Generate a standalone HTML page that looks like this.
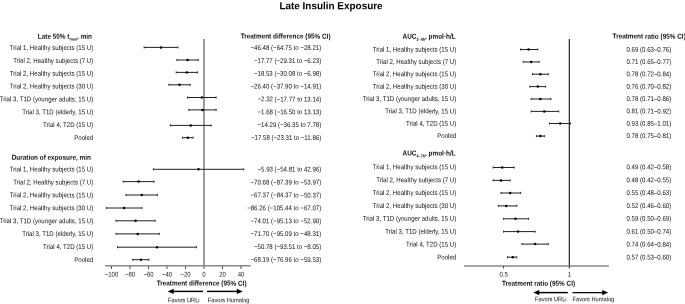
<!DOCTYPE html><html><head><meta charset="utf-8"><style>html,body{margin:0;padding:0;background:#fff;width:685px;height:304px;overflow:hidden}svg{display:block;will-change:transform}text{font-family:"Liberation Sans",sans-serif;fill:#111;text-rendering:geometricPrecision}</style></head><body>
<svg width="685" height="304" viewBox="0 0 685 304">
<g>
<text transform="matrix(1.000000,0.000873,-0.000908,1.04000,331.00,9.20)" font-size="9.95" font-weight="700" text-anchor="middle" style="fill:#000">Late Insulin Exposure</text>
<text transform="matrix(1.000000,0.000873,-0.000977,1.12000,92.00,38.70)" font-size="6.4" font-weight="700" text-anchor="end">Late 50% t<tspan font-size="3.8" dy="1.6">max</tspan><tspan dy="-1.6">, min</tspan></text>
<text transform="matrix(1.000000,0.000873,-0.000977,1.12000,90.90,159.80)" font-size="6.4" font-weight="700" text-anchor="end">Duration of exposure, min</text>
<text transform="matrix(1.000000,0.000873,-0.000977,1.12000,285.60,38.60)" font-size="6.4" font-weight="700" text-anchor="middle">Treatment difference (95% CI)</text>
<text transform="matrix(1.000000,0.000873,-0.000977,1.12000,93.20,50.10)" font-size="6.1" text-anchor="end">Trial 1, Healthy subjects (15 U)</text>
<text transform="matrix(1.000000,0.000873,-0.000977,1.12000,93.20,62.93)" font-size="6.1" text-anchor="end">Trial 2, Healthy subjects (7 U)</text>
<text transform="matrix(1.000000,0.000873,-0.000977,1.12000,93.20,75.76)" font-size="6.1" text-anchor="end">Trial 2, Healthy subjects (15 U)</text>
<text transform="matrix(1.000000,0.000873,-0.000977,1.12000,93.20,88.59)" font-size="6.1" text-anchor="end">Trial 2, Healthy subjects (30 U)</text>
<text transform="matrix(1.000000,0.000873,-0.000977,1.12000,93.20,101.42)" font-size="6.1" text-anchor="end">Trial 3, T1D (younger adults, 15 U)</text>
<text transform="matrix(1.000000,0.000873,-0.000977,1.12000,93.20,114.25)" font-size="6.1" text-anchor="end">Trial 3, T1D (elderly, 15 U)</text>
<text transform="matrix(1.000000,0.000873,-0.000977,1.12000,93.20,127.08)" font-size="6.1" text-anchor="end">Trial 4, T2D (15 U)</text>
<text transform="matrix(1.000000,0.000873,-0.000977,1.12000,93.20,139.91)" font-size="6.1" text-anchor="end">Pooled</text>
<text transform="matrix(1.000000,0.000873,-0.000977,1.12000,93.20,171.60)" font-size="6.1" text-anchor="end">Trial 1, Healthy subjects (15 U)</text>
<text transform="matrix(1.000000,0.000873,-0.000977,1.12000,93.20,184.50)" font-size="6.1" text-anchor="end">Trial 2, Healthy subjects (7 U)</text>
<text transform="matrix(1.000000,0.000873,-0.000977,1.12000,93.20,197.40)" font-size="6.1" text-anchor="end">Trial 2, Healthy subjects (15 U)</text>
<text transform="matrix(1.000000,0.000873,-0.000977,1.12000,93.20,210.30)" font-size="6.1" text-anchor="end">Trial 2, Healthy subjects (30 U)</text>
<text transform="matrix(1.000000,0.000873,-0.000977,1.12000,93.20,223.20)" font-size="6.1" text-anchor="end">Trial 3, T1D (younger adults, 15 U)</text>
<text transform="matrix(1.000000,0.000873,-0.000977,1.12000,93.20,236.10)" font-size="6.1" text-anchor="end">Trial 3, T1D (elderly, 15 U)</text>
<text transform="matrix(1.000000,0.000873,-0.000977,1.12000,93.20,249.00)" font-size="6.1" text-anchor="end">Trial 4, T2D (15 U)</text>
<text transform="matrix(1.000000,0.000873,-0.000977,1.12000,93.20,261.90)" font-size="6.1" text-anchor="end">Pooled</text>
<text transform="matrix(1.000000,0.000873,-0.000977,1.12000,321.20,50.10)" font-size="6.1" text-anchor="end">−46.48 (−64.75 to −28.21)</text>
<text transform="matrix(1.000000,0.000873,-0.000977,1.12000,321.20,62.93)" font-size="6.1" text-anchor="end">−17.77 (−29.31 to −6.23)</text>
<text transform="matrix(1.000000,0.000873,-0.000977,1.12000,321.20,75.76)" font-size="6.1" text-anchor="end">−18.53 (−30.08 to −6.98)</text>
<text transform="matrix(1.000000,0.000873,-0.000977,1.12000,321.20,88.59)" font-size="6.1" text-anchor="end">−26.40 (−37.90 to −14.91)</text>
<text transform="matrix(1.000000,0.000873,-0.000977,1.12000,321.20,101.42)" font-size="6.1" text-anchor="end">−2.32 (−17.77 to 13.14)</text>
<text transform="matrix(1.000000,0.000873,-0.000977,1.12000,321.20,114.25)" font-size="6.1" text-anchor="end">−1.68 (−16.50 to 13.13)</text>
<text transform="matrix(1.000000,0.000873,-0.000977,1.12000,321.20,127.08)" font-size="6.1" text-anchor="end">−14.29 (−36.35 to 7.78)</text>
<text transform="matrix(1.000000,0.000873,-0.000977,1.12000,321.20,139.91)" font-size="6.1" text-anchor="end">−17.58 (−23.31 to −11.86)</text>
<text transform="matrix(1.000000,0.000873,-0.000977,1.12000,321.20,171.60)" font-size="6.1" text-anchor="end">−5.93 (−54.81 to 42.96)</text>
<text transform="matrix(1.000000,0.000873,-0.000977,1.12000,321.20,184.50)" font-size="6.1" text-anchor="end">−70.68 (−87.39 to −53.97)</text>
<text transform="matrix(1.000000,0.000873,-0.000977,1.12000,321.20,197.40)" font-size="6.1" text-anchor="end">−67.37 (−84.37 to −50.37)</text>
<text transform="matrix(1.000000,0.000873,-0.000977,1.12000,321.20,210.30)" font-size="6.1" text-anchor="end">−86.26 (−105.44 to −67.07)</text>
<text transform="matrix(1.000000,0.000873,-0.000977,1.12000,321.20,223.20)" font-size="6.1" text-anchor="end">−74.01 (−95.13 to −52.90)</text>
<text transform="matrix(1.000000,0.000873,-0.000977,1.12000,321.20,236.10)" font-size="6.1" text-anchor="end">−71.70 (−95.09 to −48.31)</text>
<text transform="matrix(1.000000,0.000873,-0.000977,1.12000,321.20,249.00)" font-size="6.1" text-anchor="end">−50.78 (−93.51 to −8.05)</text>
<text transform="matrix(1.000000,0.000873,-0.000977,1.12000,321.20,261.90)" font-size="6.1" text-anchor="end">−68.19 (−76.96 to −59.53)</text>
<text transform="matrix(1.000000,0.000873,-0.000977,1.12000,111.50,276.60)" font-size="6" text-anchor="middle">−100</text>
<text transform="matrix(1.000000,0.000873,-0.000977,1.12000,130.00,276.60)" font-size="6" text-anchor="middle">−80</text>
<text transform="matrix(1.000000,0.000873,-0.000977,1.12000,148.50,276.60)" font-size="6" text-anchor="middle">−60</text>
<text transform="matrix(1.000000,0.000873,-0.000977,1.12000,167.00,276.60)" font-size="6" text-anchor="middle">−40</text>
<text transform="matrix(1.000000,0.000873,-0.000977,1.12000,185.50,276.60)" font-size="6" text-anchor="middle">−20</text>
<text transform="matrix(1.000000,0.000873,-0.000977,1.12000,204.00,276.60)" font-size="6" text-anchor="middle">0</text>
<text transform="matrix(1.000000,0.000873,-0.000977,1.12000,222.50,276.60)" font-size="6" text-anchor="middle">20</text>
<text transform="matrix(1.000000,0.000873,-0.000977,1.12000,241.00,276.60)" font-size="6" text-anchor="middle">40</text>
<text transform="matrix(1.000000,0.000873,-0.000977,1.12000,201.60,285.60)" font-size="6.4" font-weight="700" text-anchor="middle">Treatment difference (95% CI)</text>
<text transform="matrix(1.000000,0.000873,-0.000977,1.12000,168.00,302.20)" font-size="5.7">Favors URLi</text>
<text transform="matrix(1.000000,0.000873,-0.000977,1.12000,207.80,302.20)" font-size="5.7">Favors Humalog</text>
<text transform="matrix(1.000000,0.000873,-0.000977,1.12000,455.60,38.70)" font-size="6.4" font-weight="700" text-anchor="end">AUC<tspan font-size="3.8" dy="1.8">2–4h</tspan><tspan dy="-1.8">, pmol·h/L</tspan></text>
<text transform="matrix(1.000000,0.000873,-0.000977,1.12000,455.60,155.60)" font-size="6.4" font-weight="700" text-anchor="end">AUC<tspan font-size="3.8" dy="1.8">4–7h</tspan><tspan dy="-1.8">, pmol·h/L</tspan></text>
<text transform="matrix(1.000000,0.000873,-0.000977,1.12000,612.60,38.60)" font-size="6.4" font-weight="700">Treatment ratio (95% CI)</text>
<text transform="matrix(1.000000,0.000873,-0.000977,1.12000,456.20,51.70)" font-size="6.1" text-anchor="end">Trial 1, Healthy subjects (15 U)</text>
<text transform="matrix(1.000000,0.000873,-0.000977,1.12000,456.20,64.04)" font-size="6.1" text-anchor="end">Trial 2, Healthy subjects (7 U)</text>
<text transform="matrix(1.000000,0.000873,-0.000977,1.12000,456.20,76.38)" font-size="6.1" text-anchor="end">Trial 2, Healthy subjects (15 U)</text>
<text transform="matrix(1.000000,0.000873,-0.000977,1.12000,456.20,88.72)" font-size="6.1" text-anchor="end">Trial 2, Healthy subjects (30 U)</text>
<text transform="matrix(1.000000,0.000873,-0.000977,1.12000,456.20,101.06)" font-size="6.1" text-anchor="end">Trial 3, T1D (younger adults, 15 U)</text>
<text transform="matrix(1.000000,0.000873,-0.000977,1.12000,456.20,113.40)" font-size="6.1" text-anchor="end">Trial 3, T1D (elderly, 15 U)</text>
<text transform="matrix(1.000000,0.000873,-0.000977,1.12000,456.20,125.74)" font-size="6.1" text-anchor="end">Trial 4, T2D (15 U)</text>
<text transform="matrix(1.000000,0.000873,-0.000977,1.12000,456.20,138.08)" font-size="6.1" text-anchor="end">Pooled</text>
<text transform="matrix(1.000000,0.000873,-0.000977,1.12000,456.20,169.30)" font-size="6.1" text-anchor="end">Trial 1, Healthy subjects (15 U)</text>
<text transform="matrix(1.000000,0.000873,-0.000977,1.12000,456.20,182.19)" font-size="6.1" text-anchor="end">Trial 2, Healthy subjects (7 U)</text>
<text transform="matrix(1.000000,0.000873,-0.000977,1.12000,456.20,195.08)" font-size="6.1" text-anchor="end">Trial 2, Healthy subjects (15 U)</text>
<text transform="matrix(1.000000,0.000873,-0.000977,1.12000,456.20,207.97)" font-size="6.1" text-anchor="end">Trial 2, Healthy subjects (30 U)</text>
<text transform="matrix(1.000000,0.000873,-0.000977,1.12000,456.20,220.86)" font-size="6.1" text-anchor="end">Trial 3, T1D (younger adults, 15 U)</text>
<text transform="matrix(1.000000,0.000873,-0.000977,1.12000,456.20,233.75)" font-size="6.1" text-anchor="end">Trial 3, T1D (elderly, 15 U)</text>
<text transform="matrix(1.000000,0.000873,-0.000977,1.12000,456.20,246.64)" font-size="6.1" text-anchor="end">Trial 4, T2D (15 U)</text>
<text transform="matrix(1.000000,0.000873,-0.000977,1.12000,456.20,259.53)" font-size="6.1" text-anchor="end">Pooled</text>
<text transform="matrix(1.000000,0.000873,-0.000977,1.12000,671.20,51.70)" font-size="6.1" text-anchor="end">0.69 (0.63–0.76)</text>
<text transform="matrix(1.000000,0.000873,-0.000977,1.12000,671.20,64.04)" font-size="6.1" text-anchor="end">0.71 (0.65–0.77)</text>
<text transform="matrix(1.000000,0.000873,-0.000977,1.12000,671.20,76.38)" font-size="6.1" text-anchor="end">0.78 (0.72–0.84)</text>
<text transform="matrix(1.000000,0.000873,-0.000977,1.12000,671.20,88.72)" font-size="6.1" text-anchor="end">0.76 (0.70–0.82)</text>
<text transform="matrix(1.000000,0.000873,-0.000977,1.12000,671.20,101.06)" font-size="6.1" text-anchor="end">0.78 (0.71–0.86)</text>
<text transform="matrix(1.000000,0.000873,-0.000977,1.12000,671.20,113.40)" font-size="6.1" text-anchor="end">0.81 (0.71–0.92)</text>
<text transform="matrix(1.000000,0.000873,-0.000977,1.12000,671.20,125.74)" font-size="6.1" text-anchor="end">0.93 (0.85–1.01)</text>
<text transform="matrix(1.000000,0.000873,-0.000977,1.12000,671.20,138.08)" font-size="6.1" text-anchor="end">0.78 (0.75–0.81)</text>
<text transform="matrix(1.000000,0.000873,-0.000977,1.12000,671.20,169.30)" font-size="6.1" text-anchor="end">0.49 (0.42–0.58)</text>
<text transform="matrix(1.000000,0.000873,-0.000977,1.12000,671.20,182.19)" font-size="6.1" text-anchor="end">0.48 (0.42–0.55)</text>
<text transform="matrix(1.000000,0.000873,-0.000977,1.12000,671.20,195.08)" font-size="6.1" text-anchor="end">0.55 (0.48–0.63)</text>
<text transform="matrix(1.000000,0.000873,-0.000977,1.12000,671.20,207.97)" font-size="6.1" text-anchor="end">0.52 (0.46–0.60)</text>
<text transform="matrix(1.000000,0.000873,-0.000977,1.12000,671.20,220.86)" font-size="6.1" text-anchor="end">0.59 (0.50–0.69)</text>
<text transform="matrix(1.000000,0.000873,-0.000977,1.12000,671.20,233.75)" font-size="6.1" text-anchor="end">0.61 (0.50–0.74)</text>
<text transform="matrix(1.000000,0.000873,-0.000977,1.12000,671.20,246.64)" font-size="6.1" text-anchor="end">0.74 (0.64–0.84)</text>
<text transform="matrix(1.000000,0.000873,-0.000977,1.12000,671.20,259.53)" font-size="6.1" text-anchor="end">0.57 (0.53–0.60)</text>
<text transform="matrix(1.000000,0.000873,-0.000977,1.12000,503.60,276.40)" font-size="6" text-anchor="middle">0.5</text>
<text transform="matrix(1.000000,0.000873,-0.000977,1.12000,569.30,276.40)" font-size="6" text-anchor="middle">1</text>
<text transform="matrix(1.000000,0.000873,-0.000977,1.12000,538.50,285.70)" font-size="6.4" font-weight="700" text-anchor="middle">Treatment ratio (95% CI)</text>
<text transform="matrix(1.000000,0.000873,-0.000977,1.12000,535.00,301.30)" font-size="5.7">Favors URLi</text>
<text transform="matrix(1.000000,0.000873,-0.000977,1.12000,572.50,301.30)" font-size="5.7">Favors Humalog</text>
</g>
<line x1="204" y1="38.9" x2="204" y2="266" stroke="#9a9a9a" stroke-width="2"/>
<line x1="105.2" y1="265.85" x2="250.8" y2="265.85" stroke="#888" stroke-width="1.5"/>
<line x1="111.50" y1="266.4" x2="111.50" y2="268.8" stroke="#222" stroke-width="0.9"/>
<line x1="130.00" y1="266.4" x2="130.00" y2="268.8" stroke="#222" stroke-width="0.9"/>
<line x1="148.50" y1="266.4" x2="148.50" y2="268.8" stroke="#222" stroke-width="0.9"/>
<line x1="167.00" y1="266.4" x2="167.00" y2="268.8" stroke="#222" stroke-width="0.9"/>
<line x1="185.50" y1="266.4" x2="185.50" y2="268.8" stroke="#222" stroke-width="0.9"/>
<line x1="204.00" y1="266.4" x2="204.00" y2="268.8" stroke="#222" stroke-width="0.9"/>
<line x1="222.50" y1="266.4" x2="222.50" y2="268.8" stroke="#222" stroke-width="0.9"/>
<line x1="241.00" y1="266.4" x2="241.00" y2="268.8" stroke="#222" stroke-width="0.9"/>
<line x1="144.11" y1="47.40" x2="177.91" y2="47.40" stroke="#222" stroke-width="1"/>
<line x1="144.11" y1="46.30" x2="144.11" y2="48.50" stroke="#222" stroke-width="0.9"/>
<line x1="177.91" y1="46.30" x2="177.91" y2="48.50" stroke="#222" stroke-width="0.9"/>
<circle cx="161.01" cy="47.40" r="1.25" fill="#000"/>
<line x1="176.89" y1="60.00" x2="198.24" y2="60.00" stroke="#222" stroke-width="1"/>
<line x1="176.89" y1="58.90" x2="176.89" y2="61.10" stroke="#222" stroke-width="0.9"/>
<line x1="198.24" y1="58.90" x2="198.24" y2="61.10" stroke="#222" stroke-width="0.9"/>
<circle cx="187.56" cy="60.00" r="1.25" fill="#000"/>
<line x1="176.18" y1="72.40" x2="197.54" y2="72.40" stroke="#222" stroke-width="1"/>
<line x1="176.18" y1="71.30" x2="176.18" y2="73.50" stroke="#222" stroke-width="0.9"/>
<line x1="197.54" y1="71.30" x2="197.54" y2="73.50" stroke="#222" stroke-width="0.9"/>
<circle cx="186.86" cy="72.40" r="1.25" fill="#000"/>
<line x1="168.94" y1="84.80" x2="190.21" y2="84.80" stroke="#222" stroke-width="1"/>
<line x1="168.94" y1="83.70" x2="168.94" y2="85.90" stroke="#222" stroke-width="0.9"/>
<line x1="190.21" y1="83.70" x2="190.21" y2="85.90" stroke="#222" stroke-width="0.9"/>
<circle cx="179.58" cy="84.80" r="1.25" fill="#000"/>
<line x1="187.56" y1="97.50" x2="216.15" y2="97.50" stroke="#222" stroke-width="1"/>
<line x1="187.56" y1="96.40" x2="187.56" y2="98.60" stroke="#222" stroke-width="0.9"/>
<line x1="216.15" y1="96.40" x2="216.15" y2="98.60" stroke="#222" stroke-width="0.9"/>
<circle cx="201.85" cy="97.50" r="1.25" fill="#000"/>
<line x1="188.74" y1="109.90" x2="216.15" y2="109.90" stroke="#222" stroke-width="1"/>
<line x1="188.74" y1="108.80" x2="188.74" y2="111.00" stroke="#222" stroke-width="0.9"/>
<line x1="216.15" y1="108.80" x2="216.15" y2="111.00" stroke="#222" stroke-width="0.9"/>
<circle cx="202.45" cy="109.90" r="1.25" fill="#000"/>
<line x1="170.38" y1="125.40" x2="211.20" y2="125.40" stroke="#222" stroke-width="1"/>
<line x1="170.38" y1="124.30" x2="170.38" y2="126.50" stroke="#222" stroke-width="0.9"/>
<line x1="211.20" y1="124.30" x2="211.20" y2="126.50" stroke="#222" stroke-width="0.9"/>
<circle cx="190.78" cy="125.40" r="1.25" fill="#000"/>
<line x1="182.44" y1="137.70" x2="193.03" y2="137.70" stroke="#222" stroke-width="1"/>
<line x1="182.44" y1="136.60" x2="182.44" y2="138.80" stroke="#222" stroke-width="0.9"/>
<line x1="193.03" y1="136.60" x2="193.03" y2="138.80" stroke="#222" stroke-width="0.9"/>
<circle cx="187.74" cy="137.70" r="1.25" fill="#000"/>
<line x1="153.30" y1="169.30" x2="243.74" y2="169.30" stroke="#222" stroke-width="1"/>
<line x1="153.30" y1="168.20" x2="153.30" y2="170.40" stroke="#222" stroke-width="0.9"/>
<line x1="243.74" y1="168.20" x2="243.74" y2="170.40" stroke="#222" stroke-width="0.9"/>
<circle cx="198.51" cy="169.30" r="1.25" fill="#000"/>
<line x1="123.16" y1="181.60" x2="154.08" y2="181.60" stroke="#222" stroke-width="1"/>
<line x1="123.16" y1="180.50" x2="123.16" y2="182.70" stroke="#222" stroke-width="0.9"/>
<line x1="154.08" y1="180.50" x2="154.08" y2="182.70" stroke="#222" stroke-width="0.9"/>
<circle cx="138.62" cy="181.60" r="1.25" fill="#000"/>
<line x1="125.96" y1="195.00" x2="157.41" y2="195.00" stroke="#222" stroke-width="1"/>
<line x1="125.96" y1="193.90" x2="125.96" y2="196.10" stroke="#222" stroke-width="0.9"/>
<line x1="157.41" y1="193.90" x2="157.41" y2="196.10" stroke="#222" stroke-width="0.9"/>
<circle cx="141.68" cy="195.00" r="1.25" fill="#000"/>
<line x1="106.47" y1="208.00" x2="141.96" y2="208.00" stroke="#222" stroke-width="1"/>
<line x1="106.47" y1="206.90" x2="106.47" y2="209.10" stroke="#222" stroke-width="0.9"/>
<line x1="141.96" y1="206.90" x2="141.96" y2="209.10" stroke="#222" stroke-width="0.9"/>
<circle cx="124.21" cy="208.00" r="1.25" fill="#000"/>
<line x1="116.00" y1="220.80" x2="155.07" y2="220.80" stroke="#222" stroke-width="1"/>
<line x1="116.00" y1="219.70" x2="116.00" y2="221.90" stroke="#222" stroke-width="0.9"/>
<line x1="155.07" y1="219.70" x2="155.07" y2="221.90" stroke="#222" stroke-width="0.9"/>
<circle cx="135.54" cy="220.80" r="1.25" fill="#000"/>
<line x1="116.04" y1="233.90" x2="159.31" y2="233.90" stroke="#222" stroke-width="1"/>
<line x1="116.04" y1="232.80" x2="116.04" y2="235.00" stroke="#222" stroke-width="0.9"/>
<line x1="159.31" y1="232.80" x2="159.31" y2="235.00" stroke="#222" stroke-width="0.9"/>
<circle cx="137.68" cy="233.90" r="1.25" fill="#000"/>
<line x1="117.50" y1="247.20" x2="196.55" y2="247.20" stroke="#222" stroke-width="1"/>
<line x1="117.50" y1="246.10" x2="117.50" y2="248.30" stroke="#222" stroke-width="0.9"/>
<line x1="196.55" y1="246.10" x2="196.55" y2="248.30" stroke="#222" stroke-width="0.9"/>
<circle cx="157.03" cy="247.20" r="1.25" fill="#000"/>
<line x1="132.81" y1="259.70" x2="148.93" y2="259.70" stroke="#222" stroke-width="1"/>
<line x1="132.81" y1="258.60" x2="132.81" y2="260.80" stroke="#222" stroke-width="0.9"/>
<line x1="148.93" y1="258.60" x2="148.93" y2="260.80" stroke="#222" stroke-width="0.9"/>
<circle cx="140.92" cy="259.70" r="1.25" fill="#000"/>
<line x1="171.70" y1="291.4" x2="203.00" y2="291.4" stroke="#000" stroke-width="1.45"/>
<polygon points="167.70,291.4 173.70,288.79999999999995 173.70,294.0" fill="#000"/>
<line x1="207.00" y1="291.4" x2="238.80" y2="291.4" stroke="#000" stroke-width="1.45"/>
<polygon points="242.80,291.4 236.80,288.79999999999995 236.80,294.0" fill="#000"/>
<line x1="569.35" y1="38.9" x2="569.35" y2="266" stroke="#333" stroke-width="1.3"/>
<line x1="464" y1="266" x2="608.9" y2="266" stroke="#888" stroke-width="1.5"/>
<line x1="503.60" y1="266" x2="503.60" y2="268.6" stroke="#222" stroke-width="0.9"/>
<line x1="569.30" y1="266" x2="569.30" y2="268.6" stroke="#222" stroke-width="0.9"/>
<line x1="520.68" y1="49.50" x2="537.76" y2="49.50" stroke="#222" stroke-width="1"/>
<line x1="520.68" y1="48.40" x2="520.68" y2="50.60" stroke="#222" stroke-width="0.9"/>
<line x1="537.76" y1="48.40" x2="537.76" y2="50.60" stroke="#222" stroke-width="0.9"/>
<circle cx="528.57" cy="49.50" r="1.25" fill="#000"/>
<line x1="523.31" y1="61.95" x2="539.08" y2="61.95" stroke="#222" stroke-width="1"/>
<line x1="523.31" y1="60.85" x2="523.31" y2="63.05" stroke="#222" stroke-width="0.9"/>
<line x1="539.08" y1="60.85" x2="539.08" y2="63.05" stroke="#222" stroke-width="0.9"/>
<circle cx="531.19" cy="61.95" r="1.25" fill="#000"/>
<line x1="532.51" y1="74.20" x2="548.28" y2="74.20" stroke="#222" stroke-width="1"/>
<line x1="532.51" y1="73.10" x2="532.51" y2="75.30" stroke="#222" stroke-width="0.9"/>
<line x1="548.28" y1="73.10" x2="548.28" y2="75.30" stroke="#222" stroke-width="0.9"/>
<circle cx="540.39" cy="74.20" r="1.25" fill="#000"/>
<line x1="529.88" y1="86.60" x2="545.65" y2="86.60" stroke="#222" stroke-width="1"/>
<line x1="529.88" y1="85.50" x2="529.88" y2="87.70" stroke="#222" stroke-width="0.9"/>
<line x1="545.65" y1="85.50" x2="545.65" y2="87.70" stroke="#222" stroke-width="0.9"/>
<circle cx="537.76" cy="86.60" r="1.25" fill="#000"/>
<line x1="531.19" y1="99.00" x2="550.90" y2="99.00" stroke="#222" stroke-width="1"/>
<line x1="531.19" y1="97.90" x2="531.19" y2="100.10" stroke="#222" stroke-width="0.9"/>
<line x1="550.90" y1="97.90" x2="550.90" y2="100.10" stroke="#222" stroke-width="0.9"/>
<circle cx="540.39" cy="99.00" r="1.25" fill="#000"/>
<line x1="531.19" y1="111.40" x2="558.79" y2="111.40" stroke="#222" stroke-width="1"/>
<line x1="531.19" y1="110.30" x2="531.19" y2="112.50" stroke="#222" stroke-width="0.9"/>
<line x1="558.79" y1="110.30" x2="558.79" y2="112.50" stroke="#222" stroke-width="0.9"/>
<circle cx="544.33" cy="111.40" r="1.25" fill="#000"/>
<line x1="549.59" y1="123.50" x2="570.61" y2="123.50" stroke="#222" stroke-width="1"/>
<line x1="549.59" y1="122.40" x2="549.59" y2="124.60" stroke="#222" stroke-width="0.9"/>
<line x1="570.61" y1="122.40" x2="570.61" y2="124.60" stroke="#222" stroke-width="0.9"/>
<circle cx="560.10" cy="123.50" r="1.25" fill="#000"/>
<line x1="536.45" y1="136.10" x2="544.33" y2="136.10" stroke="#222" stroke-width="1"/>
<line x1="536.45" y1="135.00" x2="536.45" y2="137.20" stroke="#222" stroke-width="0.9"/>
<line x1="544.33" y1="135.00" x2="544.33" y2="137.20" stroke="#222" stroke-width="0.9"/>
<circle cx="540.39" cy="136.10" r="1.25" fill="#000"/>
<line x1="493.09" y1="167.50" x2="514.11" y2="167.50" stroke="#222" stroke-width="1"/>
<line x1="493.09" y1="166.40" x2="493.09" y2="168.60" stroke="#222" stroke-width="0.9"/>
<line x1="514.11" y1="166.40" x2="514.11" y2="168.60" stroke="#222" stroke-width="0.9"/>
<circle cx="502.29" cy="167.50" r="1.25" fill="#000"/>
<line x1="493.09" y1="180.40" x2="510.17" y2="180.40" stroke="#222" stroke-width="1"/>
<line x1="493.09" y1="179.30" x2="493.09" y2="181.50" stroke="#222" stroke-width="0.9"/>
<line x1="510.17" y1="179.30" x2="510.17" y2="181.50" stroke="#222" stroke-width="0.9"/>
<circle cx="500.97" cy="180.40" r="1.25" fill="#000"/>
<line x1="500.97" y1="193.00" x2="520.68" y2="193.00" stroke="#222" stroke-width="1"/>
<line x1="500.97" y1="191.90" x2="500.97" y2="194.10" stroke="#222" stroke-width="0.9"/>
<line x1="520.68" y1="191.90" x2="520.68" y2="194.10" stroke="#222" stroke-width="0.9"/>
<circle cx="510.17" cy="193.00" r="1.25" fill="#000"/>
<line x1="498.34" y1="205.90" x2="516.74" y2="205.90" stroke="#222" stroke-width="1"/>
<line x1="498.34" y1="204.80" x2="498.34" y2="207.00" stroke="#222" stroke-width="0.9"/>
<line x1="516.74" y1="204.80" x2="516.74" y2="207.00" stroke="#222" stroke-width="0.9"/>
<circle cx="506.23" cy="205.90" r="1.25" fill="#000"/>
<line x1="503.60" y1="218.80" x2="528.57" y2="218.80" stroke="#222" stroke-width="1"/>
<line x1="503.60" y1="217.70" x2="503.60" y2="219.90" stroke="#222" stroke-width="0.9"/>
<line x1="528.57" y1="217.70" x2="528.57" y2="219.90" stroke="#222" stroke-width="0.9"/>
<circle cx="515.43" cy="218.80" r="1.25" fill="#000"/>
<line x1="503.60" y1="231.60" x2="535.14" y2="231.60" stroke="#222" stroke-width="1"/>
<line x1="503.60" y1="230.50" x2="503.60" y2="232.70" stroke="#222" stroke-width="0.9"/>
<line x1="535.14" y1="230.50" x2="535.14" y2="232.70" stroke="#222" stroke-width="0.9"/>
<circle cx="518.05" cy="231.60" r="1.25" fill="#000"/>
<line x1="522.00" y1="244.10" x2="548.28" y2="244.10" stroke="#222" stroke-width="1"/>
<line x1="522.00" y1="243.00" x2="522.00" y2="245.20" stroke="#222" stroke-width="0.9"/>
<line x1="548.28" y1="243.00" x2="548.28" y2="245.20" stroke="#222" stroke-width="0.9"/>
<circle cx="535.14" cy="244.10" r="1.25" fill="#000"/>
<line x1="507.54" y1="257.20" x2="516.74" y2="257.20" stroke="#222" stroke-width="1"/>
<line x1="507.54" y1="256.10" x2="507.54" y2="258.30" stroke="#222" stroke-width="0.9"/>
<line x1="516.74" y1="256.10" x2="516.74" y2="258.30" stroke="#222" stroke-width="0.9"/>
<circle cx="512.80" cy="257.20" r="1.25" fill="#000"/>
<line x1="537.30" y1="292.6" x2="567.80" y2="292.6" stroke="#000" stroke-width="1.45"/>
<polygon points="533.30,292.6 539.30,290.0 539.30,295.20000000000005" fill="#000"/>
<line x1="572.50" y1="292.6" x2="604.20" y2="292.6" stroke="#000" stroke-width="1.45"/>
<polygon points="608.20,292.6 602.20,290.0 602.20,295.20000000000005" fill="#000"/>
</svg></body></html>
